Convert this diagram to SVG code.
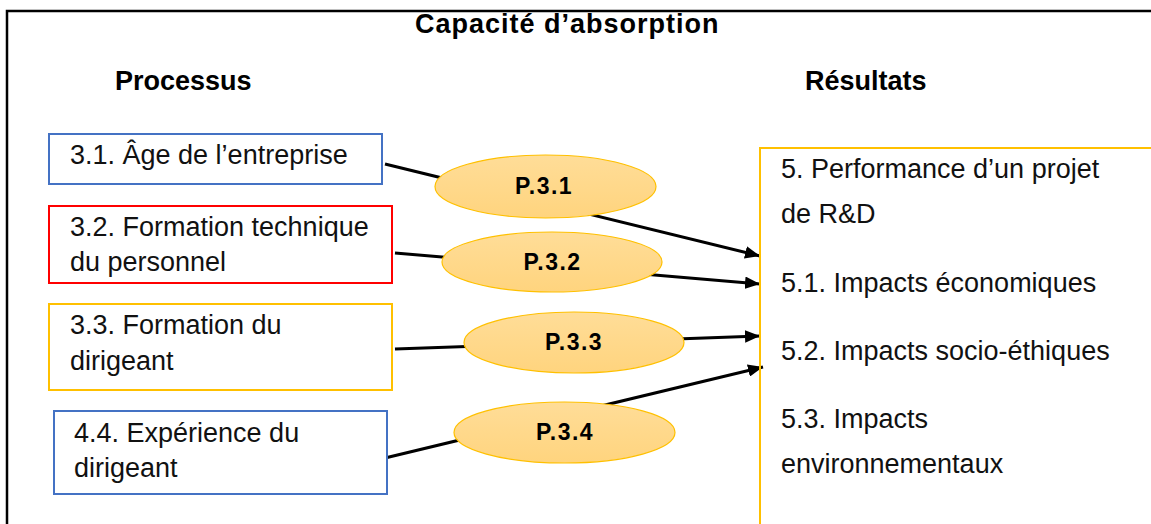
<svg xmlns="http://www.w3.org/2000/svg" width="1151" height="524" viewBox="0 0 1151 524">
<style>
.t{font-family:"Liberation Sans",Arial,sans-serif;font-size:27px;fill:#111}
.h{font-family:"Liberation Sans",Arial,sans-serif;font-size:27px;font-weight:bold;fill:#000}
.p{font-family:"Liberation Sans",Arial,sans-serif;font-size:23px;font-weight:bold;fill:#000;text-anchor:middle;letter-spacing:1.5px}
.box{fill:#fff;stroke-width:2}
.ell{fill:url(#g);stroke:#FFC000;stroke-width:1.2}
.con{stroke:#000;stroke-width:3;fill:none;marker-end:url(#arr)}
</style>
<defs>
<linearGradient id="g" x1="0" y1="0" x2="0" y2="1">
<stop offset="0" stop-color="#FFDD98"/>
<stop offset="1" stop-color="#FFD47E"/>
</linearGradient>
<marker id="arr" viewBox="0 0 12 10" refX="12" refY="5" markerWidth="5" markerHeight="4.2" orient="auto" markerUnits="strokeWidth">
<path d="M0,0 L12,5 L0,10 Z" fill="#000"/>
</marker>
</defs>
<rect width="1151" height="524" fill="#fff"/>
<path d="M7,530 V11 H1152" fill="none" stroke="#000" stroke-width="2.5"/>
<text class="h" x="415" y="33" style="letter-spacing:1px">Capacité d’absorption</text>
<text class="h" x="115" y="90">Processus</text>
<text class="h" x="805" y="90">Résultats</text>

<g id="connectors">
<line class="con" x1="385" y1="164" x2="760" y2="256"/>
<line class="con" x1="395" y1="253" x2="760" y2="284"/>
<line class="con" x1="395" y1="349" x2="760" y2="336"/>
<line class="con" x1="385" y1="458" x2="763" y2="367"/>
</g>

<g id="n31">
<rect class="box" x="49" y="134" width="333" height="50" stroke="#4472C4"/>
<text class="t" x="70" y="164">3.1. Âge de l’entreprise</text>
</g>
<g id="n32">
<rect class="box" x="49" y="206" width="343" height="77" stroke="#FF0000"/>
<text class="t" x="70" y="236">3.2. Formation technique</text>
<text class="t" x="70" y="271">du personnel</text>
</g>
<g id="n33">
<rect class="box" x="49" y="304" width="343" height="86" stroke="#FFC000"/>
<text class="t" x="70" y="334">3.3. Formation du</text>
<text class="t" x="70" y="370">dirigeant</text>
</g>
<g id="n44">
<rect class="box" x="54" y="411" width="333" height="83" stroke="#4472C4"/>
<text class="t" x="74" y="442">4.4. Expérience du</text>
<text class="t" x="74" y="477">dirigeant</text>
</g>

<g id="p31">
<ellipse class="ell" cx="545.5" cy="186.5" rx="110.5" ry="31.5"/>
<text class="p" x="544" y="194">P.3.1</text>
</g>
<g id="p32">
<ellipse class="ell" cx="552" cy="262" rx="110" ry="30"/>
<text class="p" x="552.5" y="270">P.3.2</text>
</g>
<g id="p33">
<ellipse class="ell" cx="574" cy="342.5" rx="110" ry="30.5"/>
<text class="p" x="574" y="350">P.3.3</text>
</g>
<g id="p34">
<ellipse class="ell" cx="564.5" cy="432.5" rx="110.5" ry="30.5"/>
<text class="p" x="565" y="440">P.3.4</text>
</g>

<g id="n5">
<rect x="760" y="148" width="394" height="400" fill="none" stroke="#FFC000" stroke-width="2"/>
<text class="t" x="781" y="178">5. Performance d’un projet</text>
<text class="t" x="781" y="223">de R&amp;D</text>
<text class="t" x="781" y="292">5.1. Impacts économiques</text>
<text class="t" x="781" y="360">5.2. Impacts socio-éthiques</text>
<text class="t" x="781" y="428">5.3. Impacts</text>
<text class="t" x="781" y="473">environnementaux</text>
</g>
</svg>
